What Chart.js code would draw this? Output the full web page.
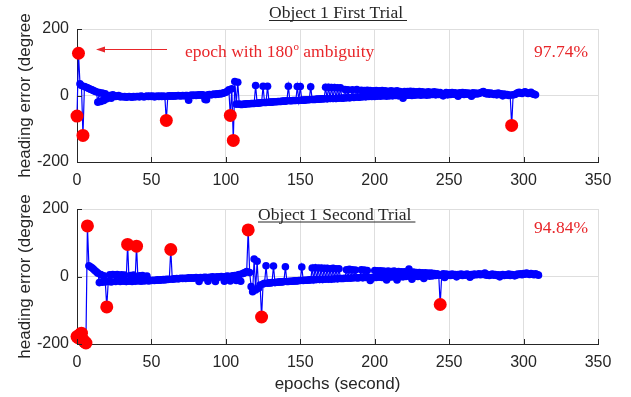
<!DOCTYPE html>
<html>
<head>
<meta charset="utf-8">
<script src="https://cdn.jsdelivr.net/npm/chart.js@4.4.1/dist/chart.umd.min.js"></script>
<style>
    body { margin: 0; background: #fff; }
    #wrap { position: relative; width: 631px; height: 397px; overflow: hidden; }
    canvas { position: absolute; left: 0; }
    #top-chart { top: 0; }
    #bottom-chart { top: 190px; }
</style>
</head>
<body>
<div id="wrap">
    <canvas id="top-chart" width="631" height="190"></canvas>
    <canvas id="bottom-chart" width="631" height="207"></canvas>
</div>
<script>
// heading error per epoch, first trial (epoch = index)
const firstTrial = [
    -62, 127, 35, 30, -120, 27, 25, 23, 21, 19,
    17, 15, 13, 11, -20, 9, -18, 7, -15, 5,
    -10, -3, 0, -8, 2, 0, -3, -2, 0, -4,
    -3, -4, -3, -5, -4, -3, -4, -5, -3, -4,
    -3, -3, -4, -2, -3, -4, -3, -2, -3, -2,
    -3, -2, -4, -3, -2, -3, -2, -3, -2, -3,
    -75, -2, -1, -2, -1, -2, -1, -1, 0, -1,
    -1, 0, -1, 0, 0, -14, 0, 1, 0, 1,
    0, 1, 2, 1, 2, 1, -12, -13, 2, 3,
    2, 3, 4, 3, 5, 4, 6, 5, 7, 8,
    10, 13, 17, -60, 20, -135, 42, -26, 40, -26,
    -27, -27, -26, -26, -25, -25, -25, -24, -24, -24,
    30, -23, -23, -22, -22, 28, -21, -21, 28, -20,
    -20, -20, -19, -19, -19, -18, -18, -18, -17, -17,
    -17, -16, 28, -16, -16, -15, -15, -15, 27, -15,
    27, -14, -14, -14, -13, -13, -13, 26, -12, -12,
    -12, -11, -11, -11, -10, -10, -10, 25, -10, 25,
    -9, 24, -9, 24, -9, 23, -8, 23, -8, -8,
    18, -7, 17, -7, -6, 17, -6, -5, 18, -5,
    -5, 16, -4, 15, -4, 16, -3, 15, -3, 14,
    -3, 15, -2, 14, -2, 15, -1, 14, -2, 13,
    -1, 14, -1, 13, 0, 14, -1, 12, 0, -8,
    12, 0, 12, 1, 13, 0, 12, 1, 11, 2,
    12, 1, 11, 2, 10, 1, 11, 2, 10, 3,
    11, 2, 10, 3, 9, 2, -1, 3, 9, 2,
    8, 3, 9, 4, 8, 3, -2, 8, 4, 9,
    3, 8, 4, 7, 3, -2, 8, 4, 7, 5,
    6, 8, 10, 12, 7, 5, 8, 4, 7, 5,
    3, 6, 2, 7, 3, 5, -1, 4, 2, 3,
    0, 1, -90, 2, 3, 5, 8, 10, 7, 6,
    9, 11, 8, 6, 7, 10, 5, 4, 2
];
const firstAmbiguous = [0, 1, 4, 60, 103, 105, 292];

// heading error per epoch, second trial
const secondTrial = [
    -178, -182, -172, -168, -188, -193, -197, 150, 32, 29,
    26, 22, 18, 14, 10, -18, 6, -17, 2, -16,
    -90, -15, 5, -16, 6, 5, -15, 6, 4, -15,
    5, -14, 4, -15, 95, -14, 3, -15, 4, -14,
    90, -13, 2, -14, 3, -13, -12, 1, -13, -12,
    -12, -11, -12, -11, -10, -11, -10, -10, -9, -10,
    -8, -9, -8, 80, -8, -7, -7, -6, -7, -6,
    -5, -6, -5, -6, -5, -4, -5, -4, -5, -4,
    -3, -4, -15, -3, -4, -3, -2, -3, -14, -2,
    -3, -1, -2, -15, -1, -2, -1, 0, -1, -14,
    0, 1, 0, -13, 1, 2, 3, -12, 4, 6,
    -14, 8, 10, 12, 15, 138, 12, -30, -45, 52,
    -40, 45, -35, -25, -120, -22, -20, 32, -20, -19,
    -19, -18, 31, -18, -17, -17, -16, -16, -16, -15,
    29, -15, -15, -14, -14, -14, -13, -13, -13, -12,
    -12, 28, -12, -11, -11, -11, -10, -10, 25, -10,
    26, -9, 25, -9, 25, -9, 24, -8, 24, -8,
    23, -8, 24, -7, 23, -7, 23, -6, -6, -6,
    -5, 20, -5, 21, -5, 20, -4, 19, -4, -4,
    -3, 20, -4, 19, -3, 18, -3, -12, -3, -4,
    18, -3, 17, -2, 17, -3, 16, -2, -10, 16,
    -2, 15, -1, 16, -2, -10, 15, -1, 14, -1,
    14, 0, 13, 22, 0, -8, 13, 1, 12, 0,
    12, 1, 11, -6, 11, 2, 10, 1, 10, 2,
    9, 3, 8, 4, -83, 3, 8, -3, 7, 4,
    6, 3, 7, 4, 6, -1, 6, 4, 7, 3,
    6, 4, 7, 5, -2, 6, 4, 7, 5, 6,
    8, 5, 7, 6, 10, 4, 6, 3, 5, 7,
    4, 6, 3, 5, -1, 4, 6, 3, 5, 4,
    7, 3, 6, 5, 2, 4, 7, 6, 8, 5,
    9, 7, 10, 8, 6, 9, 7, 5, 8, 6, 4
];
const secondAmbiguous = [0, 1, 2, 3, 4, 5, 6, 7, 20, 34, 40, 63, 115, 124, 244];

const xTicks = [0, 50, 100, 150, 200, 250, 300, 350];
const yTicks = [-200, 0, 200];

const axisColor = '#262626';
const gridColor = '#dedede';
const noteRed = '#e8262a';
const sansFont = "'Liberation Sans', Arial, sans-serif";
const serifFont = "'Liberation Serif', 'Times New Roman', serif";

Chart.defaults.font.family = sansFont;
Chart.defaults.color = axisColor;

// draws inward tick marks plus the serif titles / notes
const extrasPlugin = {
    id: 'extras',
    afterDraw(chart, args, opts) {
        const ctx = chart.ctx;
        const area = chart.chartArea;
        const xs = chart.scales.x;
        const ys = chart.scales.y;

        ctx.save();
        ctx.strokeStyle = axisColor;
        ctx.lineWidth = 1;
        xTicks.forEach(v => {
            const px = Math.round(xs.getPixelForValue(v)) + 0.5;
            ctx.beginPath();
            ctx.moveTo(px, area.bottom);
            ctx.lineTo(px, area.bottom - 5);
            ctx.stroke();
        });
        yTicks.forEach(v => {
            const py = Math.round(ys.getPixelForValue(v)) + 0.5;
            ctx.beginPath();
            ctx.moveTo(area.left, py);
            ctx.lineTo(area.left + 5, py);
            ctx.stroke();
        });

        (opts.texts || []).forEach(t => {
            ctx.font = t.font || `17.5px ${serifFont}`;
            ctx.fillStyle = t.color || axisColor;
            ctx.textBaseline = 'alphabetic';
            const w = ctx.measureText(t.text).width;
            let x = t.x;
            if (t.align === 'right') x = t.x - w;
            if (t.align === 'center') x = t.x - w / 2;
            ctx.textAlign = 'left';
            ctx.fillText(t.text, x, t.y);
            if (t.underline) {
                ctx.strokeStyle = ctx.fillStyle;
                ctx.beginPath();
                ctx.moveTo(x, t.y + 2.5);
                ctx.lineTo(x + w + 4, t.y + 2.5);
                ctx.stroke();
            }
        });

        if (opts.ambiguityNote) {
            const n = opts.ambiguityNote;
            ctx.fillStyle = noteRed;
            ctx.strokeStyle = noteRed;
            ctx.textAlign = 'left';
            ctx.textBaseline = 'alphabetic';
            ctx.font = `17.5px ${serifFont}`;
            const first = 'epoch with 180';
            ctx.fillText(first, n.x, n.y);
            let cx = n.x + ctx.measureText(first).width;
            ctx.font = `11px ${serifFont}`;
            ctx.fillText('o', cx + 0.5, n.y - 7);
            cx += ctx.measureText('o').width + 0.5;
            ctx.font = `17.5px ${serifFont}`;
            ctx.fillText(' ambiguity', cx, n.y);

            // arrow pointing left
            ctx.lineWidth = 1;
            ctx.beginPath();
            ctx.moveTo(n.arrowFrom, n.arrowY + 0.5);
            ctx.lineTo(n.arrowTo + 6, n.arrowY + 0.5);
            ctx.stroke();
            ctx.beginPath();
            ctx.moveTo(n.arrowTo, n.arrowY + 0.5);
            ctx.lineTo(n.arrowTo + 9, n.arrowY - 2.5);
            ctx.lineTo(n.arrowTo + 9, n.arrowY + 3.5);
            ctx.closePath();
            ctx.fill();
        }
        ctx.restore();
    }
};

function buildChart(canvasId, values, ambiguous, padTop, xAxisHeight, showXTitle, extras) {
    const ctx = document.getElementById(canvasId).getContext('2d');
    const linePoints = values.map((v, i) => ({ x: i, y: v }));
    const redPoints = ambiguous.map(i => ({ x: i, y: values[i] }));

    return new Chart(ctx, {
        type: 'line',
        data: {
            datasets: [{
                data: linePoints,
                borderColor: '#0000ff',
                borderWidth: 1.2,
                pointRadius: 3.8,
                pointBackgroundColor: '#0000ff',
                pointBorderWidth: 0,
                tension: 0,
                clip: false,
                order: 2
            }, {
                data: redPoints,
                showLine: false,
                pointRadius: 6.5,
                pointBackgroundColor: '#ff0000',
                pointBorderWidth: 0,
                clip: false,
                order: 1
            }]
        },
        options: {
            responsive: false,
            animation: false,
            devicePixelRatio: 1,
            layout: { padding: { top: padTop, right: 33, left: 0, bottom: 0 } },
            plugins: {
                legend: { display: false },
                tooltip: { enabled: false },
                extras: extras
            },
            scales: {
                x: {
                    type: 'linear',
                    min: 0,
                    max: 350,
                    afterBuildTicks: axis => { axis.ticks = xTicks.map(v => ({ value: v })); },
                    afterFit: axis => { axis.height = xAxisHeight; },
                    ticks: { font: { size: 16 }, padding: 9, color: axisColor, maxRotation: 0 },
                    grid: { color: gridColor, drawTicks: false },
                    border: { display: true, color: axisColor, width: 1 },
                    title: {
                        display: showXTitle,
                        text: 'epochs (second)',
                        font: { size: 17 },
                        color: axisColor,
                        padding: { top: 0, bottom: 2 }
                    }
                },
                y: {
                    type: 'linear',
                    min: -200,
                    max: 200,
                    afterBuildTicks: axis => { axis.ticks = yTicks.map(v => ({ value: v })); },
                    afterFit: axis => { axis.width = 77; },
                    ticks: { font: { size: 16 }, padding: 8, color: axisColor },
                    grid: { color: gridColor, drawTicks: false },
                    border: { display: true, color: axisColor, width: 1 },
                    title: {
                        display: true,
                        text: 'heading error (degree',
                        font: { size: 17 },
                        color: axisColor,
                        padding: { top: 15, bottom: 0 }
                    }
                }
            }
        },
        plugins: [extrasPlugin]
    });
}

buildChart('top-chart', firstTrial, firstAmbiguous, 29, 28, false, {
    texts: [
        { text: 'Object 1 First Trial', x: 336, y: 18, align: 'center', underline: true },
        { text: '97.74%', x: 588, y: 56.5, align: 'right', color: noteRed }
    ],
    ambiguityNote: { x: 185, y: 56.5, arrowFrom: 167, arrowTo: 96, arrowY: 49 }
});

buildChart('bottom-chart', secondTrial, secondAmbiguous, 19, 53, true, {
    texts: [
        { text: 'Object 1 Second Trial', x: 258, y: 29.5, align: 'left', underline: true },
        { text: '94.84%', x: 588, y: 42.5, align: 'right', color: noteRed }
    ]
});
</script>
</body>
</html>
